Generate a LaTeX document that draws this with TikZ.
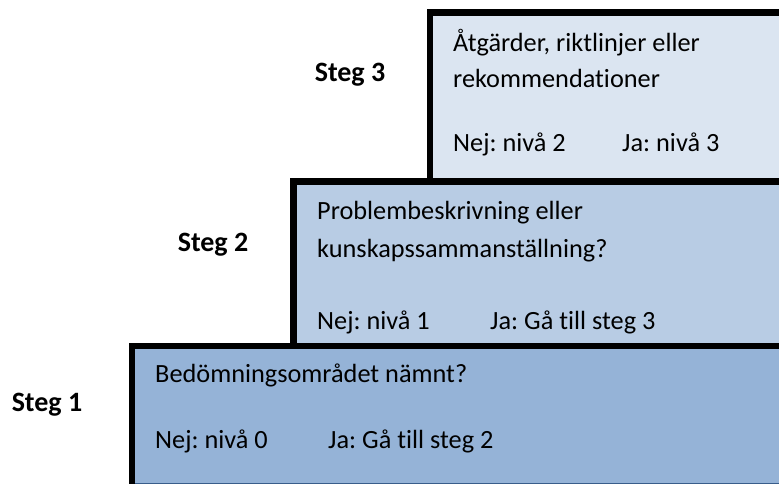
\documentclass[tikz,border=0pt]{standalone}
\usepackage{fontspec}
\setmainfont{Carlito}[Ligatures=NoCommon]
\usepackage{tikz}
\frenchspacing
\definecolor{lev1}{HTML}{95B3D7}
\definecolor{lev2}{HTML}{B8CCE4}
\definecolor{lev3}{HTML}{DBE5F1}
\definecolor{rim}{HTML}{385D8A}

\begin{document}
\begin{tikzpicture}[x=1pt,y=1pt,
  txt/.style={anchor=base west, inner sep=0pt, font=\fontsize{26.3}{32}\selectfont},
  steglabel/.style={anchor=base, inner sep=0pt, font=\fontsize{28}{34}\selectfont\bfseries},
  rimline/.style={line width=6.5pt}]
  \useasboundingbox (0,0) rectangle (779,484);
  \clip (0,0) rectangle (779,484);

  % steg 3
  \draw[fill=lev3, draw=rim, line width=0.8pt] (430,302.5) rectangle (790,471.5);
  \draw[rimline] (430,302.5) -- (430,471.5) -- (790,471.5);
  % steg 2
  \draw[fill=lev2, draw=rim, line width=0.8pt] (293.5,138) rectangle (790,302.5);
  \draw[rimline] (293.5,138) -- (293.5,302.5) -- (790,302.5);
  % steg 1
  \draw[fill=lev1, draw=rim, line width=1pt] (132,0.5) rectangle (790,138);
  \draw[rimline] (132,-5) -- (132,138) -- (790,138);

  \node[steglabel] (steg3) at (350,402) {Steg 3};
  \node[steglabel] (steg2) at (213,232) {Steg 2};
  \node[steglabel] (steg1) at (47,72) {Steg 1};

  \node[txt] (q3a) at (453,432) {Åtgärder, riktlinjer eller};
  \node[txt] (q3b) at (453,396) {rekommendationer};
  \node[txt] (nej3) at (453,332) {Nej: nivå 2};
  \node[txt] (ja3) at (622,332) {Ja: nivå 3};

  \node[txt] (q2a) at (317,264) {Problembeskrivning eller};
  \node[txt] (q2b) at (317,226) {kunskapssammanställning?};
  \node[txt] (nej2) at (317,154) {Nej: nivå 1};
  \node[txt] (ja2) at (490,154) {Ja: Gå till steg 3};

  \node[txt] (q1) at (155,101) {Bedömningsområdet nämnt?};
  \node[txt] (nej1) at (155,35) {Nej: nivå 0};
  \node[txt] (ja1) at (328,35) {Ja: Gå till steg 2};
\end{tikzpicture}
\end{document}
